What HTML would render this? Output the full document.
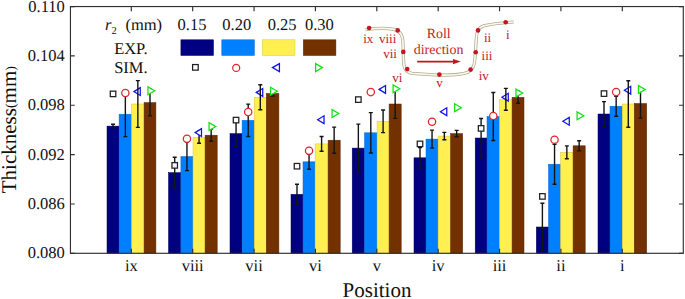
<!DOCTYPE html>
<html><head><meta charset="utf-8"><style>
html,body{margin:0;padding:0;background:#fff;}
svg{display:block;}
text{font-family:"Liberation Serif",serif;fill:#111;text-rendering:geometricPrecision;}
.t16{font-size:16.5px;}
.t10{font-size:10.5px;}
.t21{font-size:21px;}
.t13{font-size:13px;}
.t14{font-size:14px;}
.red{fill:#BF1E2A;}
</style></head><body>
<svg width="685" height="299" viewBox="0 0 685 299">
<rect width="685" height="299" fill="#fff"/>
<rect x="107.00" y="126.10" width="12.10" height="127.20" fill="#000080" stroke="#00005a" stroke-width="0.5"/>
<rect x="119.10" y="114.20" width="12.50" height="139.10" fill="#0080FF" stroke="#0a6ad0" stroke-width="0.5"/>
<rect x="131.60" y="104.00" width="12.50" height="149.30" fill="#FFEF50" stroke="#d8c838" stroke-width="0.5"/>
<rect x="144.10" y="102.60" width="11.80" height="150.70" fill="#733100" stroke="#5a2600" stroke-width="0.5"/>
<rect x="168.50" y="172.60" width="12.40" height="80.70" fill="#000080" stroke="#00005a" stroke-width="0.5"/>
<rect x="180.90" y="156.50" width="12.10" height="96.80" fill="#0080FF" stroke="#0a6ad0" stroke-width="0.5"/>
<rect x="193.00" y="137.30" width="12.10" height="116.00" fill="#FFEF50" stroke="#d8c838" stroke-width="0.5"/>
<rect x="205.10" y="135.20" width="12.10" height="118.10" fill="#733100" stroke="#5a2600" stroke-width="0.5"/>
<rect x="230.00" y="133.60" width="12.10" height="119.70" fill="#000080" stroke="#00005a" stroke-width="0.5"/>
<rect x="242.10" y="120.30" width="12.20" height="133.00" fill="#0080FF" stroke="#0a6ad0" stroke-width="0.5"/>
<rect x="254.30" y="97.30" width="12.00" height="156.00" fill="#FFEF50" stroke="#d8c838" stroke-width="0.5"/>
<rect x="266.30" y="93.50" width="12.60" height="159.80" fill="#733100" stroke="#5a2600" stroke-width="0.5"/>
<rect x="291.00" y="194.30" width="12.00" height="59.00" fill="#000080" stroke="#00005a" stroke-width="0.5"/>
<rect x="303.00" y="161.80" width="12.10" height="91.50" fill="#0080FF" stroke="#0a6ad0" stroke-width="0.5"/>
<rect x="315.10" y="143.90" width="13.00" height="109.40" fill="#FFEF50" stroke="#d8c838" stroke-width="0.5"/>
<rect x="328.10" y="140.20" width="12.10" height="113.10" fill="#733100" stroke="#5a2600" stroke-width="0.5"/>
<rect x="352.20" y="148.10" width="12.30" height="105.20" fill="#000080" stroke="#00005a" stroke-width="0.5"/>
<rect x="364.50" y="132.80" width="12.60" height="120.50" fill="#0080FF" stroke="#0a6ad0" stroke-width="0.5"/>
<rect x="377.10" y="121.30" width="12.00" height="132.00" fill="#FFEF50" stroke="#d8c838" stroke-width="0.5"/>
<rect x="389.10" y="104.00" width="12.10" height="149.30" fill="#733100" stroke="#5a2600" stroke-width="0.5"/>
<rect x="414.00" y="157.80" width="12.00" height="95.50" fill="#000080" stroke="#00005a" stroke-width="0.5"/>
<rect x="426.00" y="139.10" width="12.10" height="114.20" fill="#0080FF" stroke="#0a6ad0" stroke-width="0.5"/>
<rect x="438.10" y="136.10" width="12.50" height="117.20" fill="#FFEF50" stroke="#d8c838" stroke-width="0.5"/>
<rect x="450.60" y="133.60" width="12.10" height="119.70" fill="#733100" stroke="#5a2600" stroke-width="0.5"/>
<rect x="475.20" y="138.00" width="11.80" height="115.30" fill="#000080" stroke="#00005a" stroke-width="0.5"/>
<rect x="487.00" y="116.50" width="12.60" height="136.80" fill="#0080FF" stroke="#0a6ad0" stroke-width="0.5"/>
<rect x="499.60" y="99.30" width="12.50" height="154.00" fill="#FFEF50" stroke="#d8c838" stroke-width="0.5"/>
<rect x="512.10" y="97.30" width="11.90" height="156.00" fill="#733100" stroke="#5a2600" stroke-width="0.5"/>
<rect x="536.30" y="227.00" width="12.20" height="26.30" fill="#000080" stroke="#00005a" stroke-width="0.5"/>
<rect x="548.50" y="164.20" width="12.10" height="89.10" fill="#0080FF" stroke="#0a6ad0" stroke-width="0.5"/>
<rect x="560.60" y="152.30" width="12.50" height="101.00" fill="#FFEF50" stroke="#d8c838" stroke-width="0.5"/>
<rect x="573.10" y="145.80" width="12.10" height="107.50" fill="#733100" stroke="#5a2600" stroke-width="0.5"/>
<rect x="598.00" y="114.00" width="12.00" height="139.30" fill="#000080" stroke="#00005a" stroke-width="0.5"/>
<rect x="610.00" y="106.20" width="12.30" height="147.10" fill="#0080FF" stroke="#0a6ad0" stroke-width="0.5"/>
<rect x="622.30" y="104.00" width="12.00" height="149.30" fill="#FFEF50" stroke="#d8c838" stroke-width="0.5"/>
<rect x="634.30" y="103.50" width="12.40" height="149.80" fill="#733100" stroke="#5a2600" stroke-width="0.5"/>
<path d="M133.88,91.60 L140.28,87.70 L140.28,95.50 Z" fill="#fff" stroke="#1010F0" stroke-width="1.25" stroke-linejoin="miter"/>
<path d="M256.33,92.40 L262.73,88.50 L262.73,96.30 Z" fill="#fff" stroke="#1010F0" stroke-width="1.25" stroke-linejoin="miter"/>
<path d="M317.63,119.70 L324.03,115.80 L324.03,123.60 Z" fill="#fff" stroke="#1010F0" stroke-width="1.25" stroke-linejoin="miter"/>
<path d="M379.13,89.40 L385.53,85.50 L385.53,93.30 Z" fill="#fff" stroke="#1010F0" stroke-width="1.25" stroke-linejoin="miter"/>
<path d="M440.38,111.70 L446.78,107.80 L446.78,115.60 Z" fill="#fff" stroke="#1010F0" stroke-width="1.25" stroke-linejoin="miter"/>
<path d="M501.88,97.20 L508.28,93.30 L508.28,101.10 Z" fill="#fff" stroke="#1010F0" stroke-width="1.25" stroke-linejoin="miter"/>
<path d="M562.88,121.30 L569.28,117.40 L569.28,125.20 Z" fill="#fff" stroke="#1010F0" stroke-width="1.25" stroke-linejoin="miter"/>
<path d="M624.33,90.20 L630.73,86.30 L630.73,94.10 Z" fill="#fff" stroke="#1010F0" stroke-width="1.25" stroke-linejoin="miter"/>
<path d="M113.05,124.30 V127.90 M111.05,124.30 H115.05 M111.05,127.90 H115.05" stroke="#141414" stroke-width="1.4" fill="none"/>
<path d="M125.35,91.80 V136.60 M123.35,91.80 H127.35 M123.35,136.60 H127.35" stroke="#141414" stroke-width="1.4" fill="none"/>
<path d="M137.85,80.60 V127.40 M135.85,80.60 H139.85 M135.85,127.40 H139.85" stroke="#141414" stroke-width="1.4" fill="none"/>
<path d="M150.00,89.30 V115.90 M148.00,89.30 H152.00 M148.00,115.90 H152.00" stroke="#141414" stroke-width="1.4" fill="none"/>
<path d="M174.70,157.20 V188.00 M172.70,157.20 H176.70 M172.70,188.00 H176.70" stroke="#141414" stroke-width="1.4" fill="none"/>
<path d="M186.95,142.40 V170.60 M184.95,142.40 H188.95 M184.95,170.60 H188.95" stroke="#141414" stroke-width="1.4" fill="none"/>
<path d="M199.05,131.30 V143.30 M197.05,131.30 H201.05 M197.05,143.30 H201.05" stroke="#141414" stroke-width="1.4" fill="none"/>
<path d="M211.15,129.10 V141.30 M209.15,129.10 H213.15 M209.15,141.30 H213.15" stroke="#141414" stroke-width="1.4" fill="none"/>
<path d="M236.05,120.70 V146.50 M234.05,120.70 H238.05 M234.05,146.50 H238.05" stroke="#141414" stroke-width="1.4" fill="none"/>
<path d="M248.20,104.10 V136.50 M246.20,104.10 H250.20 M246.20,136.50 H250.20" stroke="#141414" stroke-width="1.4" fill="none"/>
<path d="M260.30,84.80 V109.80 M258.30,84.80 H262.30 M258.30,109.80 H262.30" stroke="#141414" stroke-width="1.4" fill="none"/>
<path d="M272.60,91.00 V96.00 M270.60,91.00 H274.60 M270.60,96.00 H274.60" stroke="#141414" stroke-width="1.4" fill="none"/>
<path d="M297.00,184.30 V204.30 M295.00,184.30 H299.00 M295.00,204.30 H299.00" stroke="#141414" stroke-width="1.4" fill="none"/>
<path d="M309.05,154.30 V169.30 M307.05,154.30 H311.05 M307.05,169.30 H311.05" stroke="#141414" stroke-width="1.4" fill="none"/>
<path d="M321.60,136.50 V151.30 M319.60,136.50 H323.60 M319.60,151.30 H323.60" stroke="#141414" stroke-width="1.4" fill="none"/>
<path d="M334.15,127.10 V153.30 M332.15,127.10 H336.15 M332.15,153.30 H336.15" stroke="#141414" stroke-width="1.4" fill="none"/>
<path d="M358.35,124.10 V172.10 M356.35,124.10 H360.35 M356.35,172.10 H360.35" stroke="#141414" stroke-width="1.4" fill="none"/>
<path d="M370.80,112.60 V153.00 M368.80,112.60 H372.80 M368.80,153.00 H372.80" stroke="#141414" stroke-width="1.4" fill="none"/>
<path d="M383.10,110.00 V132.60 M381.10,110.00 H385.10 M381.10,132.60 H385.10" stroke="#141414" stroke-width="1.4" fill="none"/>
<path d="M395.15,89.60 V118.40 M393.15,89.60 H397.15 M393.15,118.40 H397.15" stroke="#141414" stroke-width="1.4" fill="none"/>
<path d="M420.00,147.50 V168.10 M418.00,147.50 H422.00 M418.00,168.10 H422.00" stroke="#141414" stroke-width="1.4" fill="none"/>
<path d="M432.05,130.10 V148.10 M430.05,130.10 H434.05 M430.05,148.10 H434.05" stroke="#141414" stroke-width="1.4" fill="none"/>
<path d="M444.35,132.40 V139.80 M442.35,132.40 H446.35 M442.35,139.80 H446.35" stroke="#141414" stroke-width="1.4" fill="none"/>
<path d="M456.65,130.40 V136.80 M454.65,130.40 H458.65 M454.65,136.80 H458.65" stroke="#141414" stroke-width="1.4" fill="none"/>
<path d="M481.10,118.50 V157.50 M479.10,118.50 H483.10 M479.10,157.50 H483.10" stroke="#141414" stroke-width="1.4" fill="none"/>
<path d="M493.30,92.50 V140.50 M491.30,92.50 H495.30 M491.30,140.50 H495.30" stroke="#141414" stroke-width="1.4" fill="none"/>
<path d="M505.85,88.40 V110.20 M503.85,88.40 H507.85 M503.85,110.20 H507.85" stroke="#141414" stroke-width="1.4" fill="none"/>
<path d="M518.05,91.30 V103.30 M516.05,91.30 H520.05 M516.05,103.30 H520.05" stroke="#141414" stroke-width="1.4" fill="none"/>
<path d="M542.40,203.20 V250.80 M540.40,203.20 H544.40 M540.40,250.80 H544.40" stroke="#141414" stroke-width="1.4" fill="none"/>
<path d="M554.55,144.20 V184.20 M552.55,144.20 H556.55 M552.55,184.20 H556.55" stroke="#141414" stroke-width="1.4" fill="none"/>
<path d="M566.85,145.90 V158.70 M564.85,145.90 H568.85 M564.85,158.70 H568.85" stroke="#141414" stroke-width="1.4" fill="none"/>
<path d="M579.15,140.70 V150.90 M577.15,140.70 H581.15 M577.15,150.90 H581.15" stroke="#141414" stroke-width="1.4" fill="none"/>
<path d="M604.00,101.60 V126.40 M602.00,101.60 H606.00 M602.00,126.40 H606.00" stroke="#141414" stroke-width="1.4" fill="none"/>
<path d="M616.15,96.20 V116.20 M614.15,96.20 H618.15 M614.15,116.20 H618.15" stroke="#141414" stroke-width="1.4" fill="none"/>
<path d="M628.30,80.70 V127.30 M626.30,80.70 H630.30 M626.30,127.30 H630.30" stroke="#141414" stroke-width="1.4" fill="none"/>
<path d="M640.50,88.90 V118.10 M638.50,88.90 H642.50 M638.50,118.10 H642.50" stroke="#141414" stroke-width="1.4" fill="none"/>
<rect x="110.30" y="91.15" width="5.5" height="5.5" fill="#fff" stroke="#1e1e1e" stroke-width="1.25"/>
<circle cx="125.35" cy="93.00" r="3.65" fill="#fff" stroke="#E3222B" stroke-width="1.25"/>
<path d="M154.73,90.80 L147.93,86.90 L147.93,94.70 Z" fill="#fff" stroke="#10E010" stroke-width="1.25" stroke-linejoin="miter"/>
<rect x="171.95" y="162.65" width="5.5" height="5.5" fill="#fff" stroke="#1e1e1e" stroke-width="1.25"/>
<circle cx="186.95" cy="138.80" r="3.65" fill="#fff" stroke="#E3222B" stroke-width="1.25"/>
<path d="M195.08,132.60 L201.48,128.70 L201.48,136.50 Z" fill="#fff" stroke="#1010F0" stroke-width="1.25" stroke-linejoin="miter"/>
<path d="M215.88,126.60 L209.08,122.70 L209.08,130.50 Z" fill="#fff" stroke="#10E010" stroke-width="1.25" stroke-linejoin="miter"/>
<rect x="233.30" y="117.35" width="5.5" height="5.5" fill="#fff" stroke="#1e1e1e" stroke-width="1.25"/>
<circle cx="248.20" cy="112.10" r="3.65" fill="#fff" stroke="#E3222B" stroke-width="1.25"/>
<path d="M277.33,91.20 L270.53,87.30 L270.53,95.10 Z" fill="#fff" stroke="#10E010" stroke-width="1.25" stroke-linejoin="miter"/>
<rect x="294.25" y="163.45" width="5.5" height="5.5" fill="#fff" stroke="#1e1e1e" stroke-width="1.25"/>
<circle cx="309.05" cy="150.70" r="3.65" fill="#fff" stroke="#E3222B" stroke-width="1.25"/>
<path d="M338.88,113.50 L332.08,109.60 L332.08,117.40 Z" fill="#fff" stroke="#10E010" stroke-width="1.25" stroke-linejoin="miter"/>
<rect x="355.60" y="96.85" width="5.5" height="5.5" fill="#fff" stroke="#1e1e1e" stroke-width="1.25"/>
<circle cx="370.80" cy="92.10" r="3.65" fill="#fff" stroke="#E3222B" stroke-width="1.25"/>
<path d="M399.88,88.80 L393.08,84.90 L393.08,92.70 Z" fill="#fff" stroke="#10E010" stroke-width="1.25" stroke-linejoin="miter"/>
<rect x="417.25" y="141.15" width="5.5" height="5.5" fill="#fff" stroke="#1e1e1e" stroke-width="1.25"/>
<circle cx="432.05" cy="121.70" r="3.65" fill="#fff" stroke="#E3222B" stroke-width="1.25"/>
<path d="M461.38,107.70 L454.58,103.80 L454.58,111.60 Z" fill="#fff" stroke="#10E010" stroke-width="1.25" stroke-linejoin="miter"/>
<rect x="478.35" y="125.65" width="5.5" height="5.5" fill="#fff" stroke="#1e1e1e" stroke-width="1.25"/>
<circle cx="493.30" cy="115.90" r="3.65" fill="#fff" stroke="#E3222B" stroke-width="1.25"/>
<path d="M522.78,93.00 L515.98,89.10 L515.98,96.90 Z" fill="#fff" stroke="#10E010" stroke-width="1.25" stroke-linejoin="miter"/>
<rect x="539.65" y="193.65" width="5.5" height="5.5" fill="#fff" stroke="#1e1e1e" stroke-width="1.25"/>
<circle cx="554.55" cy="139.80" r="3.65" fill="#fff" stroke="#E3222B" stroke-width="1.25"/>
<path d="M583.88,115.80 L577.08,111.90 L577.08,119.70 Z" fill="#fff" stroke="#10E010" stroke-width="1.25" stroke-linejoin="miter"/>
<rect x="601.25" y="90.85" width="5.5" height="5.5" fill="#fff" stroke="#1e1e1e" stroke-width="1.25"/>
<circle cx="616.15" cy="92.10" r="3.65" fill="#fff" stroke="#E3222B" stroke-width="1.25"/>
<path d="M645.23,89.50 L638.43,85.60 L638.43,93.40 Z" fill="#fff" stroke="#10E010" stroke-width="1.25" stroke-linejoin="miter"/>
<rect x="70.45" y="6.55" width="612.85" height="246.75" fill="none" stroke="#303030" stroke-width="1.15"/>
<path d="M70.45,6.55 H74.75 M683.3,6.55 H679.00 M70.45,55.90 H74.75 M683.3,55.90 H679.00 M70.45,105.25 H74.75 M683.3,105.25 H679.00 M70.45,154.60 H74.75 M683.3,154.60 H679.00 M70.45,203.95 H74.75 M683.3,203.95 H679.00 M70.45,253.30 H74.75 M683.3,253.30 H679.00 M131.30,253.3 V248.70 M131.30,6.55 V11.15 M192.68,253.3 V248.70 M192.68,6.55 V11.15 M254.05,253.3 V248.70 M254.05,6.55 V11.15 M315.43,253.3 V248.70 M315.43,6.55 V11.15 M376.80,253.3 V248.70 M376.80,6.55 V11.15 M438.18,253.3 V248.70 M438.18,6.55 V11.15 M499.55,253.3 V248.70 M499.55,6.55 V11.15 M560.92,253.3 V248.70 M560.92,6.55 V11.15 M622.30,253.3 V248.70 M622.30,6.55 V11.15" stroke="#303030" stroke-width="1.15" fill="none"/>
<text x="64.8" y="11.55" text-anchor="end" class="t16">0.110</text>
<text x="64.8" y="60.90" text-anchor="end" class="t16">0.104</text>
<text x="64.8" y="110.25" text-anchor="end" class="t16">0.098</text>
<text x="64.8" y="159.60" text-anchor="end" class="t16">0.092</text>
<text x="64.8" y="208.95" text-anchor="end" class="t16">0.086</text>
<text x="64.8" y="258.30" text-anchor="end" class="t16">0.080</text>
<text x="131.30" y="271.1" text-anchor="middle" class="t16">ix</text>
<text x="192.68" y="271.1" text-anchor="middle" class="t16">viii</text>
<text x="254.05" y="271.1" text-anchor="middle" class="t16">vii</text>
<text x="315.43" y="271.1" text-anchor="middle" class="t16">vi</text>
<text x="376.80" y="271.1" text-anchor="middle" class="t16">v</text>
<text x="438.18" y="271.1" text-anchor="middle" class="t16">iv</text>
<text x="499.55" y="271.1" text-anchor="middle" class="t16">iii</text>
<text x="560.92" y="271.1" text-anchor="middle" class="t16">ii</text>
<text x="622.30" y="271.1" text-anchor="middle" class="t16">i</text>
<text x="377" y="296.8" text-anchor="middle" class="t21">Position</text>
<text transform="translate(15.8,129.65) rotate(-90)" text-anchor="middle" class="t21">Thickness<tspan font-size="14" dy="-0.4">(</tspan><tspan dy="0.4">mm</tspan><tspan font-size="14" dy="-0.4">)</tspan></text>
<text x="105.0" y="29.6" class="t16"><tspan font-style="italic">r</tspan></text>
<text x="111.6" y="33.6" class="t10">2</text>
<text x="125.4" y="29.6" class="t16">(mm)</text>
<text x="177.6" y="30.4" class="t16">0.15</text>
<text x="222.3" y="30.4" class="t16">0.20</text>
<text x="267.7" y="30.4" class="t16">0.25</text>
<text x="304.9" y="30.4" class="t16">0.30</text>
<text x="147.6" y="53.5" text-anchor="end" class="t16">EXP.</text>
<text x="147.6" y="73.2" text-anchor="end" class="t16">SIM.</text>
<rect x="180.9" y="39.8" width="32.6" height="15.7" fill="#000080" stroke="#00005a" stroke-width="0.5"/>
<rect x="221.8" y="39.8" width="32.6" height="15.7" fill="#0080FF" stroke="#0a6ad0" stroke-width="0.5"/>
<rect x="262.4" y="39.8" width="32.6" height="15.7" fill="#FFEF50" stroke="#d8c838" stroke-width="0.5"/>
<rect x="303.3" y="39.8" width="32.6" height="15.7" fill="#733100" stroke="#5a2600" stroke-width="0.5"/>
<rect x="192.60" y="64.55" width="5.6" height="5.6" fill="#fff" stroke="#1e1e1e" stroke-width="1.25"/>
<circle cx="236.20" cy="67.90" r="3.5" fill="#fff" stroke="#E3222B" stroke-width="1.25"/>
<path d="M272.43,67.60 L279.43,63.60 L279.43,71.60 Z" fill="none" stroke="#1010F0" stroke-width="1.25" stroke-linejoin="miter"/>
<path d="M322.43,67.60 L315.63,63.60 L315.63,71.60 Z" fill="#fff" stroke="#10E010" stroke-width="1.25" stroke-linejoin="miter"/>
<path d="M365.5,29.6 C375,28.4 386,28.0 394,29.4 C401,31 402.8,36 403.0,44 L403.5,60 C403.8,68.5 405.5,72.2 412,73.3 L436,75.0 C450,75.4 462,74.6 468,72.2 C473.5,69 474.6,65 475.0,58 L476.2,40 C476.7,31.5 478.2,27.6 483.5,25.9 C491,24.2 499,23.0 513.6,22.0" fill="none" stroke="#b0ab90" stroke-width="3.2" stroke-linecap="butt"/>
<path d="M365.5,29.6 C375,28.4 386,28.0 394,29.4 C401,31 402.8,36 403.0,44 L403.5,60 C403.8,68.5 405.5,72.2 412,73.3 L436,75.0 C450,75.4 462,74.6 468,72.2 C473.5,69 474.6,65 475.0,58 L476.2,40 C476.7,31.5 478.2,27.6 483.5,25.9 C491,24.2 499,23.0 513.6,22.0" fill="none" stroke="#fbf9ec" stroke-width="1.7" stroke-linecap="butt"/>
<circle cx="369.1" cy="28.0" r="2.3" fill="#C4161E"/>
<circle cx="397.7" cy="30.4" r="2.3" fill="#C4161E"/>
<circle cx="403.3" cy="51.9" r="2.3" fill="#C4161E"/>
<circle cx="407.2" cy="69.1" r="2.3" fill="#C4161E"/>
<circle cx="439.4" cy="74.6" r="2.3" fill="#C4161E"/>
<circle cx="470.6" cy="69.6" r="2.3" fill="#C4161E"/>
<circle cx="475.7" cy="52.2" r="2.3" fill="#C4161E"/>
<circle cx="478.0" cy="30.4" r="2.3" fill="#C4161E"/>
<circle cx="505.7" cy="22.2" r="2.3" fill="#C4161E"/>
<text x="368.3" y="43.1" text-anchor="middle" class="t13 red">ix</text>
<text x="387.6" y="43.1" text-anchor="middle" class="t13 red">viii</text>
<text x="396.9" y="58.4" text-anchor="end" class="t13 red">vii</text>
<text x="397.2" y="81.6" text-anchor="middle" class="t13 red">vi</text>
<text x="439.5" y="87.1" text-anchor="middle" class="t13 red">v</text>
<text x="483.8" y="79.9" text-anchor="middle" class="t13 red">iv</text>
<text x="487.0" y="59.7" text-anchor="middle" class="t13 red">iii</text>
<text x="487.6" y="41.6" text-anchor="middle" class="t13 red">ii</text>
<text x="507.8" y="39.3" text-anchor="middle" class="t13 red">i</text>
<text x="438.7" y="37.8" text-anchor="middle" class="t14 red">Roll</text>
<text x="438.6" y="54.2" text-anchor="middle" class="t14 red">direction</text>
<path d="M417.2,61.6 H454.5" stroke="#C4161E" stroke-width="1.6"/>
<path d="M453.0,59.0 L460.8,61.6 L453.0,64.2 Z" fill="#C4161E"/>
</svg>
</body></html>
